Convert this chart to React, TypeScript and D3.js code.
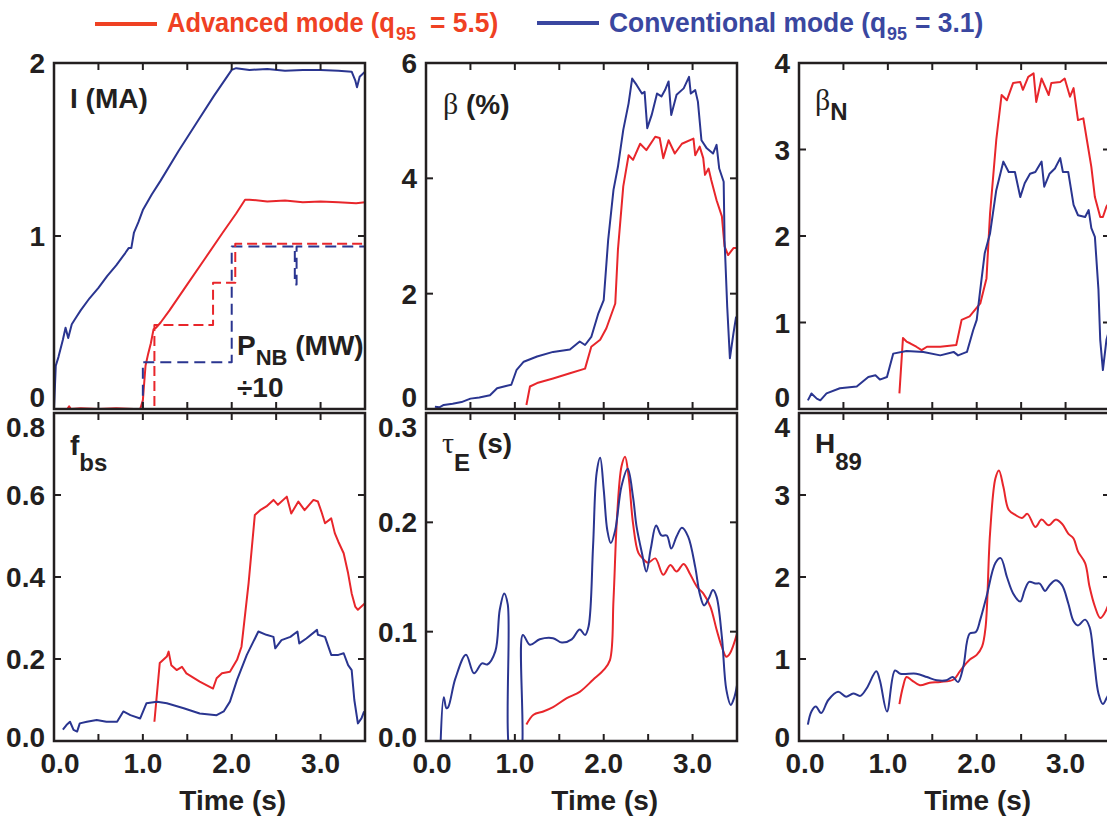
import React from 'react'
import * as d3 from 'd3'

const RED = '#e8262b'
const BLUE = '#2a3590'
const INK = '#231f20'
const FONT = "'Liberation Sans Narrow', 'Arial Narrow', 'Liberation Sans', sans-serif"
const GREEK = "'Liberation Serif', 'DejaVu Serif', serif"

// shared time axis
const timeTicks = [0, 0.5, 1, 1.5, 2, 2.5, 3, 3.5]
const timeLabels = [0, 1, 2, 3]

// plasma current (MA), conventional / advanced
const ipConv: [number, number][] = [[0, 0], [0.02, 0.25], [0.05, 0.3], [0.1, 0.4], [0.13, 0.47], [0.16, 0.41], [0.2, 0.49], [0.25, 0.53], [0.3, 0.57], [0.4, 0.64], [0.5, 0.7], [0.6, 0.77], [0.7, 0.83], [0.8, 0.9], [0.84, 0.93], [0.87, 0.93], [0.9, 1.02], [0.95, 1.08], [1.0, 1.15], [1.1, 1.24], [1.2, 1.32], [1.4, 1.49], [1.6, 1.65], [1.8, 1.81], [2.0, 1.96], [2.05, 1.97], [2.2, 1.96], [2.4, 1.965], [2.6, 1.955], [2.8, 1.96], [3.0, 1.96], [3.2, 1.955], [3.35, 1.95], [3.39, 1.9], [3.41, 1.86], [3.44, 1.92], [3.5, 1.95]]
const ipAdv: [number, number][] = [[0.15, 0], [0.17, 0.015], [0.19, 0], [0.3, 0.005], [0.5, 0], [0.7, 0.005], [0.9, 0], [0.97, 0], [1.0, 0.05], [1.03, 0.25], [1.06, 0.32], [1.09, 0.38], [1.12, 0.46], [1.15, 0.47], [1.2, 0.5], [1.3, 0.57], [1.5, 0.72], [1.7, 0.87], [1.9, 1.02], [2.05, 1.13], [2.15, 1.21], [2.2, 1.21], [2.4, 1.2], [2.6, 1.205], [2.8, 1.195], [3.0, 1.2], [3.2, 1.195], [3.4, 1.19], [3.5, 1.195]]
// neutral beam power / 10 (MW), step traces
const pnbConv: [number, number][] = [[0, 0], [1.0, 0.27], [2.0, 0.94], [2.71, 0.72], [2.73, 0.94], [3.5, 0.94]]
const pnbAdv: [number, number][] = [[0.15, 0], [1.13, 0.485], [1.79, 0.73], [2.04, 0.955], [3.5, 0.955]]

// beta (%)
const betaConv: [number, number][] = [[0.1, 0.04], [0.15, 0.03], [0.2, 0.07], [0.3, 0.09], [0.4, 0.12], [0.5, 0.18], [0.6, 0.2], [0.72, 0.24], [0.8, 0.36], [0.9, 0.4], [0.96, 0.42], [1.02, 0.68], [1.1, 0.82], [1.25, 0.91], [1.43, 0.99], [1.62, 1.03], [1.73, 1.17], [1.79, 1.11], [1.86, 1.25], [1.94, 1.66], [2.0, 1.89], [2.05, 2.93], [2.11, 3.8], [2.16, 4.2], [2.22, 4.84], [2.28, 5.3], [2.32, 5.73], [2.37, 5.62], [2.43, 5.47], [2.46, 5.5], [2.49, 4.87], [2.54, 5.1], [2.6, 5.47], [2.65, 5.42], [2.69, 5.53], [2.73, 5.68], [2.76, 5.1], [2.82, 5.45], [2.9, 5.56], [2.96, 5.76], [2.98, 5.47], [3.03, 5.53], [3.06, 5.33], [3.1, 4.66], [3.16, 4.52], [3.23, 4.43], [3.27, 4.58], [3.3, 4.17], [3.35, 3.94], [3.36, 2.93], [3.39, 1.77], [3.42, 0.88], [3.46, 1.31], [3.49, 1.6]]
const betaAdv: [number, number][] = [[1.13, 0.07], [1.17, 0.39], [1.25, 0.45], [1.43, 0.53], [1.62, 0.62], [1.79, 0.7], [1.86, 1.08], [1.96, 1.2], [2.03, 1.4], [2.13, 1.83], [2.16, 2.76], [2.22, 3.86], [2.28, 4.4], [2.33, 4.32], [2.41, 4.6], [2.48, 4.49], [2.58, 4.72], [2.63, 4.7], [2.67, 4.35], [2.73, 4.66], [2.8, 4.43], [2.88, 4.6], [3.01, 4.69], [3.03, 4.4], [3.08, 4.55], [3.12, 4.35], [3.14, 4.06], [3.18, 4.17], [3.21, 3.97], [3.27, 3.62], [3.33, 3.34], [3.36, 2.82], [3.4, 2.67], [3.46, 2.79], [3.5, 2.79]]

// normalised beta
const betaNConv: [number, number][] = [[0.1, 0.1], [0.14, 0.18], [0.2, 0.12], [0.24, 0.1], [0.31, 0.18], [0.46, 0.24], [0.65, 0.26], [0.78, 0.37], [0.86, 0.39], [0.91, 0.34], [0.99, 0.37], [1.06, 0.64], [1.21, 0.67], [1.4, 0.66], [1.59, 0.62], [1.74, 0.66], [1.79, 0.62], [1.89, 0.66], [1.96, 0.91], [2.0, 1.03], [2.04, 1.38], [2.09, 1.8], [2.15, 2.03], [2.22, 2.53], [2.3, 2.86], [2.36, 2.74], [2.43, 2.74], [2.49, 2.45], [2.54, 2.61], [2.6, 2.72], [2.66, 2.74], [2.73, 2.86], [2.76, 2.57], [2.82, 2.72], [2.88, 2.78], [2.94, 2.9], [2.97, 2.74], [3.03, 2.74], [3.09, 2.36], [3.14, 2.24], [3.22, 2.22], [3.26, 2.3], [3.29, 2.09], [3.33, 1.99], [3.37, 1.38], [3.39, 0.8], [3.42, 0.45], [3.46, 0.8], [3.5, 0.95]]
const betaNAdv: [number, number][] = [[1.13, 0.18], [1.17, 0.82], [1.21, 0.78], [1.25, 0.76], [1.32, 0.72], [1.38, 0.68], [1.44, 0.72], [1.59, 0.72], [1.77, 0.74], [1.83, 1.03], [1.92, 1.07], [2.04, 1.22], [2.11, 1.51], [2.15, 2.26], [2.22, 3.11], [2.28, 3.63], [2.34, 3.57], [2.41, 3.77], [2.49, 3.78], [2.52, 3.69], [2.58, 3.84], [2.64, 3.88], [2.67, 3.55], [2.73, 3.82], [2.81, 3.63], [2.84, 3.77], [2.94, 3.78], [2.99, 3.82], [3.05, 3.61], [3.09, 3.71], [3.14, 3.34], [3.2, 3.36], [3.24, 3.11], [3.29, 2.8], [3.33, 2.45], [3.39, 2.22], [3.42, 2.22], [3.46, 2.34], [3.5, 2.4]]

// bootstrap fraction
const fbsConv: [number, number][] = [[0.1, 0.028], [0.14, 0.039], [0.18, 0.047], [0.22, 0.027], [0.26, 0.023], [0.29, 0.043], [0.37, 0.047], [0.48, 0.051], [0.59, 0.047], [0.71, 0.047], [0.78, 0.072], [0.86, 0.063], [0.97, 0.055], [1.04, 0.092], [1.16, 0.096], [1.27, 0.092], [1.46, 0.08], [1.64, 0.067], [1.83, 0.063], [1.91, 0.072], [1.98, 0.096], [2.06, 0.149], [2.17, 0.21], [2.3, 0.267], [2.39, 0.259], [2.47, 0.254], [2.49, 0.226], [2.56, 0.246], [2.66, 0.254], [2.74, 0.267], [2.76, 0.238], [2.84, 0.25], [2.96, 0.271], [2.97, 0.259], [3.05, 0.254], [3.12, 0.21], [3.2, 0.21], [3.26, 0.214], [3.31, 0.185], [3.35, 0.173], [3.38, 0.1], [3.42, 0.043], [3.46, 0.055], [3.49, 0.072]]
const fbsAdv: [number, number][] = [[1.13, 0.047], [1.19, 0.19], [1.23, 0.198], [1.27, 0.206], [1.29, 0.218], [1.32, 0.185], [1.38, 0.173], [1.44, 0.181], [1.49, 0.165], [1.64, 0.145], [1.79, 0.128], [1.83, 0.153], [1.89, 0.165], [1.98, 0.169], [2.06, 0.198], [2.11, 0.23], [2.19, 0.385], [2.26, 0.551], [2.32, 0.563], [2.39, 0.572], [2.47, 0.588], [2.52, 0.576], [2.62, 0.596], [2.67, 0.555], [2.75, 0.584], [2.82, 0.563], [2.92, 0.588], [2.97, 0.584], [3.01, 0.559], [3.05, 0.531], [3.12, 0.543], [3.16, 0.507], [3.2, 0.486], [3.26, 0.458], [3.31, 0.409], [3.35, 0.36], [3.39, 0.328], [3.42, 0.32], [3.5, 0.336]]

// energy confinement time (s)
const tauConv: [number, number][] = [[0.165, 0], [0.2, 0.04], [0.23, 0.03], [0.25, 0.031], [0.33, 0.057], [0.45, 0.079], [0.54, 0.062], [0.63, 0.071], [0.69, 0.07], [0.78, 0.082], [0.83, 0.12], [0.88, 0.135], [0.92, 0.125], [0.97, -0.02], [1.05, -0.02], [1.09, 0.097], [1.17, 0.088], [1.28, 0.093], [1.43, 0.094], [1.53, 0.09], [1.64, 0.093], [1.73, 0.102], [1.79, 0.097], [1.83, 0.105], [1.88, 0.178], [1.92, 0.245], [1.96, 0.259], [2.0, 0.23], [2.04, 0.193], [2.08, 0.181], [2.13, 0.193], [2.2, 0.233], [2.27, 0.249], [2.33, 0.223], [2.37, 0.196], [2.43, 0.172], [2.48, 0.155], [2.53, 0.176], [2.59, 0.197], [2.65, 0.188], [2.71, 0.188], [2.76, 0.176], [2.82, 0.187], [2.88, 0.195], [2.95, 0.187], [3.03, 0.159], [3.08, 0.135], [3.13, 0.124], [3.18, 0.13], [3.23, 0.138], [3.27, 0.132], [3.33, 0.095], [3.38, 0.047], [3.43, 0.033], [3.47, 0.04], [3.5, 0.051]]
const tauAdv: [number, number][] = [[1.13, 0.015], [1.21, 0.024], [1.32, 0.027], [1.43, 0.031], [1.58, 0.039], [1.73, 0.045], [1.88, 0.056], [2.0, 0.065], [2.07, 0.074], [2.11, 0.129], [2.15, 0.205], [2.2, 0.251], [2.24, 0.26], [2.28, 0.242], [2.33, 0.199], [2.39, 0.172], [2.45, 0.166], [2.5, 0.163], [2.58, 0.167], [2.67, 0.152], [2.75, 0.161], [2.82, 0.155], [2.9, 0.162], [2.97, 0.153], [3.05, 0.141], [3.12, 0.135], [3.2, 0.123], [3.27, 0.102], [3.33, 0.086], [3.38, 0.077], [3.42, 0.08], [3.5, 0.098]]

// confinement enhancement H89
const h89Conv: [number, number][] = [[0.1, 0.2], [0.14, 0.36], [0.19, 0.42], [0.25, 0.34], [0.33, 0.5], [0.44, 0.6], [0.53, 0.54], [0.61, 0.58], [0.69, 0.55], [0.76, 0.64], [0.87, 0.85], [0.91, 0.74], [0.99, 0.36], [1.08, 0.86], [1.14, 0.82], [1.32, 0.82], [1.44, 0.78], [1.55, 0.74], [1.66, 0.74], [1.73, 0.78], [1.79, 0.72], [1.85, 0.91], [1.92, 1.31], [1.99, 1.33], [2.04, 1.48], [2.11, 1.76], [2.21, 2.17], [2.27, 2.23], [2.34, 2.0], [2.41, 1.8], [2.49, 1.7], [2.54, 1.84], [2.59, 1.94], [2.66, 1.92], [2.71, 1.92], [2.77, 1.83], [2.82, 1.9], [2.89, 1.96], [2.96, 1.9], [3.03, 1.68], [3.09, 1.46], [3.14, 1.41], [3.22, 1.48], [3.27, 1.39], [3.32, 0.99], [3.37, 0.58], [3.42, 0.45], [3.46, 0.52], [3.5, 0.6]]
const h89Adv: [number, number][] = [[1.13, 0.45], [1.17, 0.66], [1.21, 0.78], [1.27, 0.74], [1.36, 0.68], [1.47, 0.71], [1.59, 0.72], [1.74, 0.75], [1.81, 0.85], [1.92, 0.99], [2.0, 1.05], [2.06, 1.15], [2.1, 1.39], [2.15, 2.53], [2.21, 3.2], [2.25, 3.3], [2.3, 3.1], [2.36, 2.82], [2.43, 2.76], [2.51, 2.72], [2.57, 2.77], [2.66, 2.61], [2.73, 2.7], [2.81, 2.63], [2.89, 2.7], [2.96, 2.65], [3.03, 2.53], [3.09, 2.47], [3.14, 2.31], [3.22, 2.17], [3.27, 1.88], [3.33, 1.64], [3.39, 1.5], [3.44, 1.56], [3.5, 1.72]]

const ipTicks = [0, 1, 2]
const betaTicks = [0, 2, 4, 6]
const betaNTicks = [0, 1, 2, 3, 4]
const fbsTicks = [0, 0.2, 0.4, 0.6, 0.8]
const tauTicks = [0, 0.1, 0.2, 0.3]
const h89Ticks = [0, 1, 2, 3, 4]

type Series = { pts: [number, number][]; color: string; dash?: string; curve?: d3.CurveFactory }

const W = 311
const TICK = 7

function Panel({ id, left, top, bottom, yMax, yTicks, fmt, series, row, children }: {
  id: string; left: number; top: number; bottom: number; yMax: number; yTicks: number[]
  fmt: (v: number) => string; series: Series[]; row: 'top' | 'bottom'; children?: React.ReactNode
}) {
  const x = d3.scaleLinear().domain([0, 3.5]).range([left, left + W])
  const y = d3.scaleLinear().domain([0, yMax]).range([bottom, top])
  // labels at the shared border between rows are nudged apart
  const shift = (v: number) => {
    if (row === 'top') return v === 0 ? -12 : 0
    if (v === yMax) return 14
    if (v === 0) return -4
    return 0
  }
  return (
    <g>
      <clipPath id={id}>
        <rect x={left} y={top} width={W} height={bottom - top} />
      </clipPath>
      <g clipPath={`url(#${id})`}>
        {series.map((s, i) => {
          const line = d3.line<[number, number]>()
            .x(d => x(d[0]))
            .y(d => y(d[1]))
            .curve(s.curve ?? d3.curveLinear)
          return <path key={i} d={line(s.pts) ?? ''} fill="none" stroke={s.color} strokeWidth={2}
            strokeDasharray={s.dash} strokeLinejoin="round" />
        })}
      </g>
      {timeTicks.slice(1, -1).map(t => (
        <g key={t} stroke={INK} strokeWidth={2}>
          <line x1={x(t)} x2={x(t)} y1={top} y2={top + TICK} />
          <line x1={x(t)} x2={x(t)} y1={bottom} y2={bottom - TICK} />
        </g>
      ))}
      {yTicks.filter(v => v > 0 && v < yMax).map(v => (
        <g key={v} stroke={INK} strokeWidth={2}>
          <line x1={left} x2={left + TICK} y1={y(v)} y2={y(v)} />
          <line x1={left + W} x2={left + W - TICK} y1={y(v)} y2={y(v)} />
        </g>
      ))}
      <rect x={left} y={top} width={W} height={bottom - top} fill="none" stroke={INK} strokeWidth={2.5} />
      {yTicks.map(v => (
        <text key={v} x={left - 9} y={y(v) + 10 + shift(v)} textAnchor="end" fontSize={28}
          fontWeight="bold" fontFamily={FONT} fill={INK}>{fmt(v)}</text>
      ))}
      {row === 'bottom' && (
        <g fontFamily={FONT} fontWeight="bold" fontSize={28} fill={INK} textAnchor="middle">
          {timeLabels.map(t => (
            <text key={t} x={x(t) + (t === 0 ? 6 : 0)} y={bottom + 32}>{d3.format('.1f')(t)}</text>
          ))}
          <text x={x(2) + 1} y={bottom + 69}>Time (s)</text>
        </g>
      )}
      <g transform={`translate(${left},${top})`} fill={INK} fontFamily={FONT} fontWeight="bold" fontSize={28}>
        {children}
      </g>
    </g>
  )
}

// legend text pieces, squeezed a little to match the condensed face
function Squeezed({ x, y, size, k = 0.943, children }: { x: number; y: number; size: number; k?: number; children: React.ReactNode }) {
  return (
    <g transform={`translate(${x},${y}) scale(${k},1)`}>
      <text fontSize={size}>{children}</text>
    </g>
  )
}

const smooth = d3.curveCatmullRom.alpha(0.5)
const step = d3.curveStepAfter

export default function App() {
  const cols = [54, 426, 799]
  const topRow = { top: 63, bottom: 409 }
  const botRow = { top: 413, bottom: 741 }
  const int = d3.format('d')
  const one = d3.format('.1f')
  return (
    <svg width={1107} height={822} style={{ position: 'absolute', left: 0, top: 0, background: '#fff' }}>
      <rect width={1107} height={822} fill="#fff" />
      {/* legend */}
      <g fontFamily={FONT} fontWeight="bold">
        <line x1={95} x2={157} y1={24} y2={24} stroke="#ef4123" strokeWidth={4} />
        <g fill="#ef4123">
          <Squeezed x={167} y={32} size={28} k={0.91}>Advanced mode (q</Squeezed>
          <Squeezed x={396} y={40} size={19}>95</Squeezed>
          <Squeezed x={430} y={32} size={28}>= 5.5)</Squeezed>
        </g>
        <line x1={537} x2={599} y1={23} y2={23} stroke="#3a47a0" strokeWidth={4} />
        <g fill="#3a47a0">
          <Squeezed x={609} y={32} size={28}>Conventional mode (q</Squeezed>
          <Squeezed x={887} y={40} size={19}>95</Squeezed>
          <Squeezed x={915} y={32} size={28}>= 3.1)</Squeezed>
        </g>
      </g>

      <Panel id="c1" left={cols[0]} {...topRow} yMax={2} yTicks={ipTicks} fmt={int} row="top"
        series={[
          { pts: ipAdv, color: RED },
          { pts: ipConv, color: BLUE },
          { pts: pnbConv, color: BLUE, dash: '11,6', curve: step },
          { pts: pnbAdv, color: RED, dash: '10,5', curve: step },
        ]}>
        <text x={16} y={45}>I (MA)</text>
        <text x={183} y={292}>P<tspan fontSize={22} dy={10}>NB</tspan><tspan dy={-10}> (MW)</tspan></text>
        <text x={183} y={334}>÷10</text>
      </Panel>

      <Panel id="c2" left={cols[1]} {...topRow} yMax={6} yTicks={betaTicks} fmt={int} row="top"
        series={[{ pts: betaAdv, color: RED }, { pts: betaConv, color: BLUE }]}>
        <text x={17} y={51}><tspan fontFamily={GREEK} fontWeight="normal" fontSize={30}>β</tspan> (%)</text>
      </Panel>

      <Panel id="c3" left={cols[2]} {...topRow} yMax={4} yTicks={betaNTicks} fmt={int} row="top"
        series={[{ pts: betaNAdv, color: RED }, { pts: betaNConv, color: BLUE }]}>
        <text x={16} y={47}><tspan fontFamily={GREEK} fontWeight="normal" fontSize={30}>β</tspan><tspan fontSize={24} dy={10}>N</tspan></text>
      </Panel>

      <Panel id="c4" left={cols[0]} {...botRow} yMax={0.8} yTicks={fbsTicks} fmt={one} row="bottom"
        series={[{ pts: fbsAdv, color: RED }, { pts: fbsConv, color: BLUE }]}>
        <text x={16} y={42}>f<tspan fontSize={24} dy={16}>bs</tspan></text>
      </Panel>

      <Panel id="c5" left={cols[1]} {...botRow} yMax={0.3} yTicks={tauTicks} fmt={one} row="bottom"
        series={[{ pts: tauAdv, color: RED, curve: smooth }, { pts: tauConv, color: BLUE, curve: smooth }]}>
        <text x={16} y={40}><tspan fontFamily={GREEK} fontWeight="normal" fontSize={30}>τ</tspan><tspan fontSize={24} dy={18}>E</tspan><tspan dy={-18}> (s)</tspan></text>
      </Panel>

      <Panel id="c6" left={cols[2]} {...botRow} yMax={4} yTicks={h89Ticks} fmt={int} row="bottom"
        series={[{ pts: h89Adv, color: RED, curve: smooth }, { pts: h89Conv, color: BLUE, curve: smooth }]}>
        <text x={16} y={40}>H<tspan fontSize={24} dy={17}>89</tspan></text>
      </Panel>
    </svg>
  )
}
